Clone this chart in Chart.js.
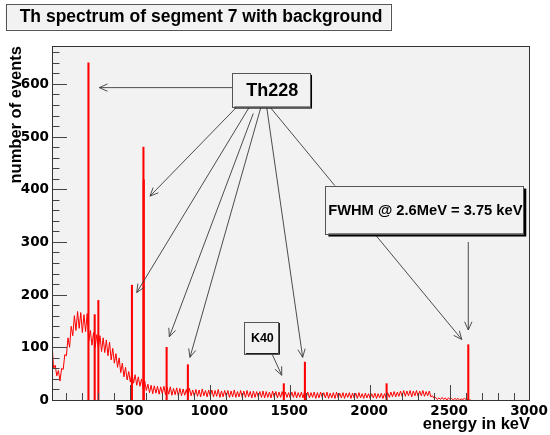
<!DOCTYPE html>
<html>
<head>
<meta charset="utf-8">
<title>Th spectrum of segment 7 with background</title>
<script src="https://cdn.jsdelivr.net/npm/chart.js@4.4.1/dist/chart.umd.min.js"></script>
<style>
  html, body { margin: 0; padding: 0; background: #fff; }
  canvas { display: block; }
</style>
</head>
<body>
<canvas id="spectrum" width="550" height="435"></canvas>
<script>
// Continuum, counts per 10 keV bin starting at 10 keV
const binStart = 10;
const binWidth = 10;
const background = [
  108, 60, 66, 46, 56, 36, 60, 58, 86, 84,
  118, 100, 140, 122, 160, 132, 168, 136, 166, 128,
  162, 130, 164, 112, 132, 104, 128, 100, 124, 98,
  122, 92, 118, 90, 114, 84, 110, 76, 98, 70,
  88, 62, 80, 52, 70, 44, 62, 38, 54, 34,
  52, 32, 48, 28, 44, 26, 40, 22, 36, 18,
  30, 14, 28, 12, 27, 13, 26, 11, 25, 12,
  26, 10, 24, 11, 25, 9, 22, 10, 23, 8,
  22, 8, 21, 9, 20, 7, 22, 8, 19, 7,
  20, 7, 19, 6, 21, 8, 18, 6, 19, 7,
  19, 6, 18, 7, 20, 5, 17, 6, 18, 7,
  18, 5, 17, 6, 19, 5, 16, 6, 18, 5,
  17, 5, 18, 6, 16, 4, 17, 5, 16, 6,
  16, 5, 17, 4, 16, 5, 15, 4, 17, 5,
  16, 4, 15, 5, 16, 4, 15, 5, 14, 4,
  15, 5, 16, 4, 14, 5, 15, 4, 16, 5,
  15, 4, 14, 5, 15, 3, 14, 4, 15, 5,
  14, 4, 15, 3, 13, 4, 14, 3, 15, 4,
  13, 4, 14, 3, 13, 5, 14, 3, 13, 4,
  13, 3, 14, 4, 12, 3, 13, 4, 12, 3,
  12, 4, 13, 3, 12, 4, 13, 3, 12, 4,
  14, 5, 15, 6, 16, 6, 15, 7, 17, 7,
  18, 7, 17, 8, 18, 6, 17, 8, 18, 7,
  17, 8, 18, 7, 16, 8, 17, 6, 8, 3,
  5, 1, 4, 1, 5, 1, 4, 0, 4, 1,
  3, 0, 3, 1, 3, 0, 2, 1, 3, 1,
  1, 0, 0
];

// Gamma lines (keV) and their peak bin contents
const peakEnergy = [238, 277, 300, 510, 582, 584, 727, 860, 1460, 1592, 2103, 2614];
const peakCounts = [640, 162, 189, 218, 480, 418, 100, 67, 31, 72, 31, 105];

const xTicks = [500, 1000, 1500, 2000, 2500, 3000];
const yTicks = [0, 100, 200, 300, 400, 500, 600];

// Labels and arrows, placed in (keV, counts)
const labels = [
  { text: "Th228", box: [1138, 621, 1624, 557], shadow: 2, font: 'bold 18px "Liberation Sans"' },
  { text: "FWHM @ 2.6MeV = 3.75 keV", box: [1720, 407, 2958, 316], shadow: 3, font: 'bold 14.7px "Liberation Sans"' },
  { text: "K40", box: [1213, 149, 1426, 89], shadow: 1.5, font: 'bold 12.5px "Liberation Sans"' }
];
const arrows = [
  [1138, 593, 306, 593],
  [1165, 556, 623, 387],
  [1244, 556, 540, 204],
  [1269, 544, 744, 120],
  [1315, 554, 873, 81],
  [1353, 556, 1578, 81],
  [1374, 556, 2573, 115],
  [2614, 300, 2614, 133],
  [1384, 89, 1447, 47]
];

function drawArrow(ctx, x1, y1, x2, y2) {
  const ang = Math.atan2(y2 - y1, x2 - x1);
  const head = 9, spread = 0.42;
  ctx.beginPath();
  ctx.moveTo(x1, y1);
  ctx.lineTo(x2, y2);
  ctx.moveTo(x2 - head * Math.cos(ang - spread), y2 - head * Math.sin(ang - spread));
  ctx.lineTo(x2, y2);
  ctx.lineTo(x2 - head * Math.cos(ang + spread), y2 - head * Math.sin(ang + spread));
  ctx.stroke();
}

function drawBox(ctx, x1, y1, x2, y2, shadow) {
  if (shadow) {
    ctx.fillStyle = "#000";
    ctx.fillRect(x1 + shadow, y1 + shadow, x2 - x1, y2 - y1);
  }
  ctx.fillStyle = "#f2f2f2";
  ctx.fillRect(x1, y1, x2 - x1, y2 - y1);
  ctx.strokeStyle = "#555";
  ctx.lineWidth = 1;
  ctx.strokeRect(Math.round(x1) + 0.5, Math.round(y1) + 0.5, Math.round(x2 - x1), Math.round(y2 - y1));
}

// ROOT-like pad: frame, inner ticks, labels, annotations
const rootPad = {
  id: "rootPad",
  beforeDraw(chart) {
    const { ctx, chartArea: a } = chart;
    ctx.save();
    ctx.fillStyle = "#fff";
    ctx.fillRect(0, 0, chart.width, chart.height);
    ctx.fillStyle = "#f2f2f2";
    ctx.fillRect(a.left, a.top, a.right - a.left, a.bottom - a.top);
    ctx.restore();
  },
  afterDatasetsDraw(chart) {
    const { ctx, chartArea: a } = chart;
    const xs = chart.scales.x, ys = chart.scales.y;
    ctx.save();

    // ticks
    ctx.strokeStyle = "#444";
    ctx.lineWidth = 1;
    ctx.beginPath();
    for (let v = 100; v < 3000; v += 100) {
      const px = Math.round(xs.getPixelForValue(v)) + 0.5;
      const len = xTicks.includes(v) ? 15 : 7;
      ctx.moveTo(px, a.bottom);
      ctx.lineTo(px, a.bottom - len);
    }
    for (let v = 20; v < ys.max; v += 20) {
      const py = Math.round(ys.getPixelForValue(v)) + 0.5;
      const len = yTicks.includes(v) ? 15 : 7.5;
      ctx.moveTo(a.left, py);
      ctx.lineTo(a.left + len, py);
    }
    ctx.stroke();

    // frame
    ctx.strokeStyle = "#333";
    ctx.strokeRect(a.left + 0.5, a.top + 0.5, a.right - a.left - 1, a.bottom - a.top);

    // tick labels
    ctx.fillStyle = "#000";
    ctx.font = 'bold 13.5px "DejaVu Sans"';
    ctx.textAlign = "right";
    ctx.textBaseline = "middle";
    yTicks.forEach((v) => ctx.fillText(String(v), a.left - 3, ys.getPixelForValue(v) + 0.5));
    ctx.textAlign = "center";
    ctx.textBaseline = "alphabetic";
    xTicks.forEach((v) => ctx.fillText(String(v), xs.getPixelForValue(v) - 1, 415));

    // axis titles
    ctx.font = 'bold 16.5px "Liberation Sans"';
    ctx.textAlign = "right";
    ctx.fillText("energy in keV", a.right, 429);
    ctx.save();
    ctx.translate(21, a.top);
    ctx.rotate(-Math.PI / 2);
    ctx.fillText("number of events", 0, 0);
    ctx.restore();

    // arrows, then the boxes on top of them
    ctx.strokeStyle = "#3a3a3a";
    ctx.lineWidth = 0.9;
    arrows.forEach(([e1, c1, e2, c2]) => {
      drawArrow(ctx, xs.getPixelForValue(e1), ys.getPixelForValue(c1),
                xs.getPixelForValue(e2), ys.getPixelForValue(c2));
    });
    labels.forEach((l) => {
      const x1 = xs.getPixelForValue(l.box[0]), y1 = ys.getPixelForValue(l.box[1]);
      const x2 = xs.getPixelForValue(l.box[2]), y2 = ys.getPixelForValue(l.box[3]);
      drawBox(ctx, x1, y1, x2, y2, l.shadow);
      ctx.fillStyle = "#000";
      ctx.font = l.font;
      ctx.textAlign = "center";
      ctx.textBaseline = "middle";
      ctx.fillText(l.text, (x1 + x2) / 2 + 1, (y1 + y2) / 2 + 1);
    });

    // pad title
    drawBox(ctx, 5.5, 4, 390, 29.5, 0);
    ctx.fillStyle = "#000";
    ctx.font = 'bold 17.5px "Liberation Sans"';
    ctx.textAlign = "center";
    ctx.textBaseline = "alphabetic";
    ctx.fillText("Th spectrum of segment 7 with background", 201, 22);

    ctx.restore();
  }
};

new Chart(document.getElementById("spectrum"), {
  data: {
    datasets: [
      {
        type: "bar",
        label: "lines",
        data: peakEnergy.map((e, i) => ({ x: e, y: peakCounts[i] })),
        backgroundColor: "rgb(255,0,0)",
        borderWidth: 0,
        barThickness: 1.4,
        order: 1
      },
      {
        type: "line",
        label: "continuum",
        data: background.map((c, i) => ({ x: binStart + i * binWidth, y: c })),
        borderColor: "rgb(255,0,0)",
        borderWidth: 1,
        pointRadius: 0,
        tension: 0,
        order: 2
      }
    ]
  },
  options: {
    responsive: false,
    animation: false,
    events: [],
    layout: { padding: { left: 52, right: 20, top: 46, bottom: 35 } },
    plugins: { legend: { display: false }, tooltip: { enabled: false } },
    scales: {
      x: { type: "linear", min: 10, max: 3000, offset: false, display: false },
      y: { type: "linear", min: 0, max: 672, display: false }
    }
  },
  plugins: [rootPad]
});
</script>
</body>
</html>
